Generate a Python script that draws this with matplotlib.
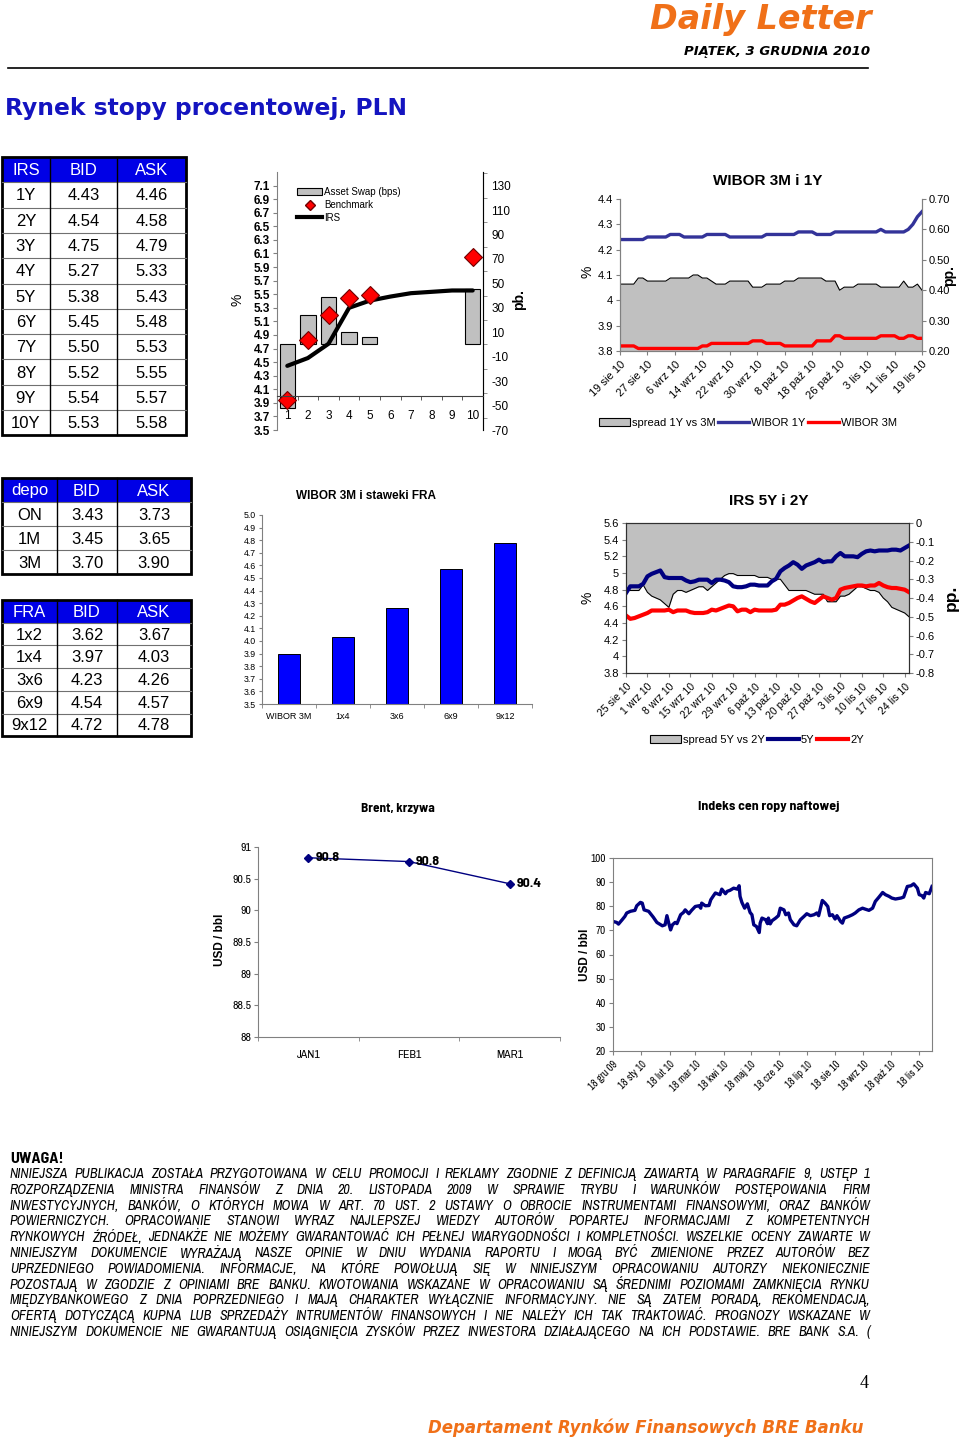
import numpy as np
import matplotlib
matplotlib.use('Agg')
import matplotlib.pyplot as plt
from matplotlib.patches import Rectangle, Patch
from matplotlib.lines import Line2D
from matplotlib.ticker import FixedLocator, FuncFormatter, MultipleLocator

plt.rcParams['font.family'] = ['Liberation Sans', 'DejaVu Sans']
plt.rcParams['axes.unicode_minus'] = False
NARROW = ['Archivo Narrow', 'Liberation Sans', 'DejaVu Sans']
NARROWB = ['Barlow Semi Condensed', 'Archivo Narrow', 'Liberation Sans', 'DejaVu Sans']

# ---------------- DATA ----------------
irs_tenors = ['1Y', '2Y', '3Y', '4Y', '5Y', '6Y', '7Y', '8Y', '9Y', '10Y']
irs_bid = [4.43, 4.54, 4.75, 5.27, 5.38, 5.45, 5.50, 5.52, 5.54, 5.53]
irs_ask = [4.46, 4.58, 4.79, 5.33, 5.43, 5.48, 5.53, 5.55, 5.57, 5.58]

depo_tenors = ['ON', '1M', '3M']
depo_bid = [3.43, 3.45, 3.70]
depo_ask = [3.73, 3.65, 3.90]

fra_tenors = ['1x2', '1x4', '3x6', '6x9', '9x12']
fra_bid = [3.62, 3.97, 4.23, 4.54, 4.72]
fra_ask = [3.67, 4.03, 4.26, 4.57, 4.78]

# asset swap chart
curve_cats = [1, 2, 3, 4, 5, 6, 7, 8, 9, 10]
asw_cats = [1, 2, 3, 4, 5, 10]
asw_bps = [-52, 24, 39, 10, 6, 45]
bench_cats = [1, 2, 3, 4, 5, 10]
bench_yield = [3.94, 4.82, 5.19, 5.44, 5.49, 6.05]

# WIBOR 3M i 1Y (daily)
wibor1y = ([4.24] * 6 + [4.25] * 5 + [4.26] * 3 + [4.25] * 5 + [4.26] * 5 + [4.25] * 8 +
           [4.26] * 7 + [4.27] * 4 + [4.26] * 4 + [4.27] * 10 + [4.28] + [4.27] * 5 +
           [4.28, 4.30, 4.33, 4.35])
wibor3m = ([3.82] * 4 + [3.81] * 14 + [3.82] * 2 + [3.83] * 9 + [3.84] * 3 + [3.83] * 4 +
           [3.82] * 7 + [3.84] * 4 + [3.86] * 2 + [3.85] * 8 + [3.86] * 4 + [3.85] * 2 +
           [3.86] * 2 + [3.85] * 2)
spread_1y3m = ([0.42] * 4 + [0.44] * 2 + [0.43] * 5 + [0.44] * 5 + [0.45] * 2 + [0.44] * 2 +
               [0.43] + [0.42] * 3 + [0.43] * 5 + [0.41] * 3 + [0.42] * 4 + [0.43] * 3 +
               [0.44] * 6 + [0.43] * 3 + [0.40] + [0.41] * 3 + [0.42] * 5 + [0.41] * 5 +
               [0.43] + [0.41] * 2 + [0.42] + [0.40])
wibor_labels = ['19 sie 10', '27 sie 10', '6 wrz 10', '14 wrz 10', '22 wrz 10', '30 wrz 10',
                '8 paź 10', '18 paź 10', '26 paź 10', '3 lis 10', '11 lis 10', '19 lis 10']

# IRS 5Y i 2Y (daily)
irs5y = [4.76, 4.84, 4.84, 4.84, 4.87, 4.96, 4.99, 5.01, 5.03, 4.95,
         4.94, 4.94, 4.94, 4.94, 4.91, 4.89, 4.90, 4.92, 4.92, 4.92,
         4.88, 4.92, 4.92, 4.91, 4.89, 4.84, 4.83, 4.83, 4.84, 4.86,
         4.86, 4.85, 4.85, 4.85, 4.90, 4.93, 5.02, 5.06, 5.09, 5.13,
         5.10, 5.05, 5.09, 5.11, 5.13, 5.16, 5.13, 5.14, 5.14, 5.20,
         5.24, 5.20, 5.20, 5.20, 5.19, 5.23, 5.26, 5.27, 5.26, 5.27,
         5.27, 5.27, 5.28, 5.28, 5.27, 5.30, 5.33]
irs2y = [4.49, 4.45, 4.46, 4.48, 4.50, 4.52, 4.55, 4.55, 4.55, 4.55,
         4.56, 4.53, 4.55, 4.55, 4.55, 4.53, 4.52, 4.52, 4.52, 4.53,
         4.56, 4.55, 4.57, 4.59, 4.61, 4.60, 4.54, 4.56, 4.56, 4.53,
         4.56, 4.55, 4.55, 4.55, 4.55, 4.56, 4.62, 4.62, 4.64, 4.67,
         4.70, 4.72, 4.69, 4.66, 4.64, 4.68, 4.72, 4.70, 4.68, 4.70,
         4.80, 4.82, 4.83, 4.84, 4.85, 4.85, 4.84, 4.85, 4.85, 4.88,
         4.85, 4.83, 4.82, 4.82, 4.81, 4.80, 4.77]
spread_5y2y = [-0.35, -0.36, -0.36, -0.36, -0.33, -0.37, -0.39, -0.40, -0.41, -0.43,
               -0.45, -0.38, -0.36, -0.36, -0.37, -0.36, -0.35, -0.34, -0.34, -0.36,
               -0.34, -0.32, -0.30, -0.28, -0.27, -0.27, -0.28, -0.28, -0.28, -0.28,
               -0.28, -0.29, -0.29, -0.29, -0.30, -0.30, -0.30, -0.33, -0.36, -0.36,
               -0.36, -0.36, -0.36, -0.37, -0.38, -0.38, -0.38, -0.42, -0.42, -0.42,
               -0.39, -0.39, -0.38, -0.36, -0.34, -0.34, -0.35, -0.36, -0.36, -0.37,
               -0.40, -0.42, -0.45, -0.46, -0.47, -0.48, -0.50]
irs_labels = ['25 sie 10', '1 wrz 10', '8 wrz 10', '15 wrz 10', '22 wrz 10', '29 wrz 10',
              '6 paź 10', '13 paź 10', '20 paź 10', '27 paź 10', '3 lis 10', '10 lis 10',
              '17 lis 10', '24 lis 10']

# Brent curve
brent_months = ['JAN1', 'FEB1', 'MAR1']
brent_price = [90.83, 90.77, 90.42]

# Oil index (days since 18 Dec 2009, USD/bbl)
oil_start = '2009-12-18'
oil_days = [0, 4, 6, 10, 13, 15, 19, 24, 26, 30, 32, 34, 39, 44, 48, 54, 57, 59, 61, 63,
            65, 68, 70, 74, 77, 79, 83, 86, 90, 94, 96, 97, 101, 105, 107, 110, 112, 114, 117, 119,
            123, 125, 128, 132, 136, 138, 139, 141, 144, 147, 150, 152, 154, 157, 160, 161, 163, 167, 169, 170,
            172, 174, 178, 181, 183, 187, 189, 192, 194, 198, 201, 205, 209, 212, 216, 220, 223, 225, 229, 232,
            235, 237, 240, 243, 245, 249, 251, 253, 258, 262, 265, 269, 273, 276, 280, 284, 287, 291, 295, 298,
            302, 305, 309, 315, 318, 322, 326, 329, 333, 335, 338, 340, 342, 346, 349]
oil_vals = [73.7, 73.3, 72.6, 74.4, 75.8, 77.2, 77.9, 78.3, 80.2, 81.6, 81.3, 78.5, 77.9, 75.5, 73.3, 71.9, 72.3, 76.1, 73.0, 70.2,
            72.3, 73.3, 72.8, 76.5, 77.4, 78.5, 76.9, 78.3, 79.9, 80.2, 79.2, 81.3, 80.2, 80.3, 82.7, 84.4, 85.5, 85.2, 84.8, 87.1,
            85.2, 86.2, 86.6, 87.5, 87.1, 88.5, 84.1, 81.6, 79.2, 81.0, 77.4, 76.5, 72.3, 71.6, 69.1, 73.0, 75.1, 74.4, 72.8, 75.1,
            72.7, 74.0, 75.1, 76.1, 79.2, 78.5, 76.5, 77.2, 74.4, 72.3, 71.9, 74.4, 75.8, 76.9, 76.1, 76.5, 77.2, 76.1, 82.4, 81.3,
            79.9, 76.1, 76.5, 74.7, 76.1, 73.7, 73.0, 75.1, 75.8, 76.5, 77.2, 78.5, 79.2, 78.8, 78.3, 79.2, 82.0, 83.8, 85.7, 84.8,
            84.1, 83.4, 83.0, 83.4, 83.8, 88.2, 88.5, 89.3, 87.5, 84.8, 84.4, 83.4, 85.7, 85.2, 88.2]
oil_tick_dates = ['2009-12-18', '2010-01-18', '2010-02-18', '2010-03-18', '2010-04-18', '2010-05-18',
                  '2010-06-18', '2010-07-18', '2010-08-18', '2010-09-18', '2010-10-18', '2010-11-18']
oil_tick_labels = ['18 gru 09', '18 sty 10', '18 lut 10', '18 mar 10', '18 kwi 10', '18 maj 10',
                   '18 cze 10', '18 lip 10', '18 sie 10', '18 wrz 10', '18 paź 10', '18 lis 10']

disclaimer = [
    "NINIEJSZA PUBLIKACJA ZOSTAŁA PRZYGOTOWANA W CELU PROMOCJI I REKLAMY ZGODNIE Z DEFINICJĄ ZAWARTĄ W PARAGRAFIE 9, USTĘP 1",
    "ROZPORZĄDZENIA MINISTRA FINANSÓW Z DNIA 20. LISTOPADA 2009 W SPRAWIE TRYBU I WARUNKÓW POSTĘPOWANIA FIRM",
    "INWESTYCYJNYCH, BANKÓW, O KTÓRYCH MOWA W ART. 70 UST. 2 USTAWY O OBROCIE INSTRUMENTAMI FINANSOWYMI, ORAZ BANKÓW",
    "POWIERNICZYCH. OPRACOWANIE STANOWI WYRAZ NAJLEPSZEJ WIEDZY AUTORÓW POPARTEJ INFORMACJAMI Z KOMPETENTNYCH",
    "RYNKOWYCH ŹRÓDEŁ, JEDNAKŻE NIE MOŻEMY GWARANTOWAĆ ICH PEŁNEJ WIARYGODNOŚCI I KOMPLETNOŚCI. WSZELKIE OCENY ZAWARTE W",
    "NINIEJSZYM DOKUMENCIE WYRAŻAJĄ NASZE OPINIE W DNIU WYDANIA RAPORTU I MOGĄ BYĆ ZMIENIONE PRZEZ AUTORÓW BEZ",
    "UPRZEDNIEGO POWIADOMIENIA. INFORMACJE, NA KTÓRE POWOŁUJĄ SIĘ W NINIEJSZYM OPRACOWANIU AUTORZY NIEKONIECZNIE",
    "POZOSTAJĄ W ZGODZIE Z OPINIAMI BRE BANKU. KWOTOWANIA WSKAZANE W OPRACOWANIU SĄ ŚREDNIMI POZIOMAMI ZAMKNIĘCIA RYNKU",
    "MIĘDZYBANKOWEGO Z DNIA POPRZEDNIEGO I MAJĄ CHARAKTER WYŁĄCZNIE INFORMACYJNY. NIE SĄ ZATEM PORADĄ, REKOMENDACJĄ,",
    "OFERTĄ DOTYCZĄCĄ KUPNA LUB SPRZEDAŻY INTRUMENTÓW FINANSOWYCH I NIE NALEŻY ICH TAK TRAKTOWAĆ. PROGNOZY WSKAZANE W",
    "NINIEJSZYM DOKUMENCIE NIE GWARANTUJĄ OSIĄGNIĘCIA ZYSKÓW PRZEZ INWESTORA DZIAŁAJĄCEGO NA ICH PODSTAWIE. BRE BANK S.A. (",
]

# ---------------- FIGURE ----------------
W, H = 960, 1440
fig = plt.figure(figsize=(W / 100, H / 100), dpi=100)
ov = fig.add_axes([0, 0, 1, 1])
ov.set_xlim(0, W)
ov.set_ylim(H, 0)
ov.set_autoscale_on(False)
ov.axis('off')


def axpx(l, t, r, b):
    return fig.add_axes([l / W, 1 - b / H, (r - l) / W, (b - t) / H])


ORANGE = '#F07018'
TBLUE = '#0000E6'
GREYFILL = '#C0C0C0'
AXC = '#808080'

# header
ov.text(872, 20, 'Daily Letter', ha='right', va='center', fontsize=24, fontweight='bold',
        fontstyle='italic', color=ORANGE, family=['DejaVu Sans'])
ov.text(870, 51, 'PIĄTEK, 3 GRUDNIA 2010', ha='right', va='center', fontsize=9.5,
        fontweight='bold', fontstyle='italic', family=['DejaVu Sans'])
ov.plot([8, 868], [68, 68], color='black', lw=1.2)
ov.text(5, 108, 'Rynek stopy procentowej, PLN', ha='left', va='center', fontsize=16.8,
        fontweight='bold', color='#1414C0', family=['DejaVu Sans'])


def table(xe, ytop, rh, header, cols, fs=12):
    nrow = len(cols[0]) + 1
    ybot = ytop + rh * nrow
    ov.add_patch(Rectangle((xe[0], ytop), xe[-1] - xe[0], rh, facecolor=TBLUE, edgecolor='none'))
    for r in range(1, nrow):
        ov.plot([xe[0], xe[-1]], [ytop + r * rh] * 2, color='#707070', lw=0.8)
    for c in range(1, len(xe) - 1):
        ov.plot([xe[c]] * 2, [ytop, ybot], color='black', lw=1.0)
    ov.add_patch(Rectangle((xe[0], ytop), xe[-1] - xe[0], ybot - ytop, fill=False,
                           edgecolor='black', lw=2))
    for c, h in enumerate(header):
        ov.text((xe[c] + xe[c + 1]) / 2, ytop + rh / 2 + 1, h, ha='center', va='center',
                fontsize=fs, color='white')
    for c, col in enumerate(cols):
        for r, v in enumerate(col):
            s = v if isinstance(v, str) else f'{v:.2f}'
            ov.text((xe[c] + xe[c + 1]) / 2, ytop + (r + 1.5) * rh + 1, s, ha='center',
                    va='center', fontsize=fs, color='black')


table([2, 50, 117, 186], 157, 25.3, ['IRS', 'BID', 'ASK'], [irs_tenors, irs_bid, irs_ask])
table([2, 57, 117, 191], 478, 24, ['depo', 'BID', 'ASK'], [depo_tenors, depo_bid, depo_ask])
table([2, 57, 117, 191], 600, 22.7, ['FRA', 'BID', 'ASK'], [fra_tenors, fra_bid, fra_ask])

fmt_g = FuncFormatter(lambda v, p: f'{v:g}')

# ---------------- Chart 1: asset swap ----------------
ax1 = axpx(277, 172, 483, 430)
ax1r = ax1.twinx()
ax1.set_zorder(ax1r.get_zorder() + 1)
ax1.patch.set_visible(False)
ax1.set_xlim(0.5, 10.5)
ax1.set_ylim(3.5, 7.3)
ax1r.set_ylim(-70, 141.1)
ax1r.bar(asw_cats, asw_bps, width=0.75, color=GREYFILL, edgecolor='black', lw=0.8)
irs_mid = [(b + a) / 2 for b, a in zip(irs_bid, irs_ask)]
ax1.plot(curve_cats, irs_mid, color='black', lw=3, solid_capstyle='round')
ax1.plot(bench_cats, bench_yield, ls='none', marker='D', markersize=9,
         markerfacecolor='#FF0000', markeredgecolor='#700000', markeredgewidth=0.8)
ax1.yaxis.set_major_locator(FixedLocator(np.arange(3.5, 7.15, 0.2)))
ax1.yaxis.set_major_formatter(FuncFormatter(lambda v, p: f'{v:.1f}'))
ax1.tick_params(axis='y', labelsize=8.5, length=3, color=AXC, pad=2)
for t in ax1.get_yticklabels():
    t.set_fontweight('bold')
ax1r.yaxis.set_major_locator(FixedLocator(np.arange(-70, 131, 20)))
ax1r.yaxis.set_minor_locator(FixedLocator(np.arange(-60, 141, 20)))
ax1r.tick_params(axis='y', which='both', labelsize=8.5, length=3, color=AXC, pad=6)
ax1r.tick_params(axis='y', which='major', length=0)
ax1.spines['bottom'].set_position(('data', 4.0))
ax1.spines['bottom'].set_color('#404040')
ax1.set_xticks(curve_cats)
ax1.set_xticklabels([str(c) for c in curve_cats])
ax1.xaxis.set_minor_locator(FixedLocator(np.arange(0.5, 10.6, 1)))
ax1.tick_params(axis='x', which='major', length=0, labelsize=8.5, pad=10)
ax1.tick_params(axis='x', which='minor', length=3, color='#404040')
for a in (ax1, ax1r):
    a.spines['top'].set_visible(False)
ax1r.spines['bottom'].set_visible(False)
ax1.spines['left'].set_color(AXC)
ax1r.spines['right'].set_color(AXC)
ax1r.spines['left'].set_visible(False)
h1 = [Patch(facecolor=GREYFILL, edgecolor='black', lw=0.8),
      Line2D([], [], ls='none', marker='D', markersize=5, markerfacecolor='#FF0000',
             markeredgecolor='#700000'),
      Line2D([], [], color='black', lw=3)]
ax1.legend(h1, ['Asset Swap (bps)', 'Benchmark', 'IRS'], loc='upper left',
           bbox_to_anchor=(297 / W, 1 - 187 / H), bbox_transform=fig.transFigure,
           frameon=False, fontsize=7, handlelength=2.6, handleheight=0.7,
           labelspacing=0.3, handletextpad=0.2, borderpad=0, borderaxespad=0)
ov.text(237, 300, '%', rotation=90, ha='center', va='center', fontsize=10)
ov.text(519, 300, 'pb.', rotation=90, ha='center', va='center', fontsize=10, fontweight='bold')

# ---------------- Chart 2: WIBOR 3M i 1Y ----------------
x2 = np.arange(len(wibor1y))
ax2 = axpx(620, 199, 922, 351)
ax2r = ax2.twinx()
ax2.set_zorder(ax2r.get_zorder() + 1)
ax2.patch.set_visible(False)
ax2.set_xlim(0, len(wibor1y) - 1)
ax2.set_ylim(3.8, 4.4)
ax2r.set_ylim(0.2, 0.7)
ax2r.fill_between(x2, 0.2, spread_1y3m, color=GREYFILL, lw=0)
ax2r.plot(x2, spread_1y3m, color='black', lw=0.8)
ax2.plot(x2, wibor1y, color='#333399', lw=2.4)
ax2.plot(x2, wibor3m, color='#FF0000', lw=2.4)
ax2.yaxis.set_major_locator(FixedLocator(np.arange(3.8, 4.41, 0.1)))
ax2.yaxis.set_major_formatter(FuncFormatter(lambda v, p: f'{round(v, 1):g}'))
ax2r.yaxis.set_major_locator(FixedLocator(np.arange(0.2, 0.71, 0.1)))
ax2r.yaxis.set_major_formatter(FuncFormatter(lambda v, p: f'{v:.2f}'))
ax2.set_xticks(np.arange(len(wibor_labels)) * 6)
ax2.set_xticklabels(wibor_labels, rotation=45, ha='right', rotation_mode='anchor')
ax2.tick_params(axis='x', labelsize=8, length=3, color=AXC, pad=3)
ax2.tick_params(axis='y', labelsize=8, length=3, color=AXC, pad=2)
ax2r.tick_params(axis='y', labelsize=8, length=3, color=AXC, pad=2)
for a in (ax2, ax2r):
    a.spines['top'].set_visible(False)
    for s in ('left', 'right', 'bottom'):
        a.spines[s].set_color(AXC)
ov.text(768, 181, 'WIBOR 3M i 1Y', ha='center', va='center', fontsize=11, fontweight='bold')
ov.text(588, 272, '%', rotation=90, ha='center', va='center', fontsize=10)
ov.text(949, 276, 'pp.', rotation=90, ha='center', va='center', fontsize=10, fontweight='bold')
h2 = [Patch(facecolor=GREYFILL, edgecolor='black', lw=0.8),
      Line2D([], [], color='#333399', lw=2.4), Line2D([], [], color='#FF0000', lw=2.4)]
fig.legend(h2, ['spread 1Y vs 3M', 'WIBOR 1Y', 'WIBOR 3M'], loc='center',
           bbox_to_anchor=(748 / W, 1 - 423 / H), ncol=3, frameon=False, fontsize=8,
           handlelength=2.8, handleheight=0.7, handletextpad=0.2, columnspacing=0.2)

# ---------------- Chart 3: FRA bars ----------------
fra_chart_labels = ['WIBOR 3M'] + fra_tenors[1:]
fra_chart_vals = [depo_ask[2]] + fra_ask[1:]
ax3 = axpx(262, 515, 532, 704)
xc = np.arange(len(fra_chart_vals))
ax3.bar(xc, fra_chart_vals, width=0.41, color='#0000FF', edgecolor='black', lw=0.7)
ax3.set_xlim(-0.5, len(xc) - 0.5)
ax3.set_ylim(3.5, 5.0)
ax3.yaxis.set_major_locator(FixedLocator(np.arange(3.5, 5.01, 0.1)))
ax3.yaxis.set_major_formatter(FuncFormatter(lambda v, p: f'{v:.1f}'))
ax3.set_xticks(xc)
ax3.set_xticklabels(fra_chart_labels)
ax3.xaxis.set_minor_locator(FixedLocator(np.arange(-0.5, len(xc), 1)))
ax3.tick_params(axis='x', which='major', length=0, labelsize=6.5, pad=6)
ax3.tick_params(axis='x', which='minor', length=3, color=AXC)
ax3.tick_params(axis='y', labelsize=6.3, length=2.5, color=AXC, pad=2)
ax3.spines['top'].set_visible(False)
ax3.spines['right'].set_visible(False)
ax3.spines['left'].set_color(AXC)
ax3.spines['bottom'].set_color(AXC)
ov.text(366, 496, 'WIBOR 3M i staweki FRA', ha='center', va='center', fontsize=8.5,
        fontweight='bold')

# ---------------- Chart 4: IRS 5Y i 2Y ----------------
x4 = np.arange(len(irs5y))
ax4 = axpx(626, 523, 909, 673)
ax4r = ax4.twinx()
ax4.set_zorder(ax4r.get_zorder() + 1)
ax4.patch.set_visible(False)
ax4.set_xlim(0, len(irs5y) - 1)
ax4.set_ylim(3.8, 5.6)
ax4r.set_ylim(-0.8, 0)
ax4r.fill_between(x4, spread_5y2y, 0, color=GREYFILL, lw=0)
ax4r.plot(x4, spread_5y2y, color='black', lw=0.8)
ax4.plot(x4, irs5y, color='#000080', lw=3)
ax4.plot(x4, irs2y, color='#FF0000', lw=3)
ax4.yaxis.set_major_locator(FixedLocator(np.arange(3.8, 5.61, 0.2)))
ax4.yaxis.set_major_formatter(FuncFormatter(lambda v, p: f'{round(v, 1):g}'))
ax4r.yaxis.set_major_locator(FixedLocator(np.arange(-0.8, 0.01, 0.1)))
ax4r.yaxis.set_major_formatter(FuncFormatter(lambda v, p: f'{round(v, 1):g}' if abs(v) > 1e-9 else '0'))
ax4.set_xticks(np.arange(len(irs_labels)) * 5)
ax4.set_xticklabels(irs_labels, rotation=45, ha='right', rotation_mode='anchor')
ax4.tick_params(axis='x', labelsize=7.5, length=3, color=AXC, pad=3)
ax4.tick_params(axis='y', labelsize=8, length=3, color=AXC, pad=2)
ax4r.tick_params(axis='y', labelsize=8, length=3, color=AXC, pad=2)
for a in (ax4, ax4r):
    for s in ('left', 'right', 'bottom', 'top'):
        a.spines[s].set_color('#303030')
ov.text(769, 501, 'IRS 5Y i 2Y', ha='center', va='center', fontsize=11, fontweight='bold')
ov.text(587, 598, '%', rotation=90, ha='center', va='center', fontsize=10)
ov.text(951, 598, 'pp.', rotation=90, ha='center', va='center', fontsize=12.5, fontweight='bold')
h4 = [Patch(facecolor=GREYFILL, edgecolor='black', lw=0.8),
      Line2D([], [], color='#000080', lw=3), Line2D([], [], color='#FF0000', lw=3)]
fig.legend(h4, ['spread 5Y vs 2Y', '5Y', '2Y'], loc='center',
           bbox_to_anchor=(757 / W, 1 - 740 / H), ncol=3, frameon=False, fontsize=8,
           handlelength=2.8, handleheight=0.7, handletextpad=0.2, columnspacing=0.2)

# ---------------- Chart 5: Brent curve ----------------
ax5 = axpx(258, 847, 560, 1037)
xb = np.arange(len(brent_price))
ax5.plot(xb, brent_price, color='#000080', lw=1, marker='D', markersize=4)
for xi, v in zip(xb, brent_price):
    ax5.annotate(f'{v:.1f}', (xi, v), xytext=(5, 0), textcoords='offset points',
                 ha='left', va='center', fontsize=10, fontweight='bold', family=NARROWB)
ax5.set_xlim(-0.5, len(xb) - 0.5)
ax5.set_ylim(88, 91)
ax5.yaxis.set_major_locator(MultipleLocator(0.5))
ax5.yaxis.set_major_formatter(fmt_g)
ax5.set_xticks(xb)
ax5.set_xticklabels(brent_months)
ax5.xaxis.set_minor_locator(FixedLocator(np.arange(-0.5, len(xb), 1)))
ax5.tick_params(axis='x', which='major', length=0, labelsize=8.5, pad=9)
ax5.tick_params(axis='x', which='minor', length=3, color=AXC)
ax5.tick_params(axis='y', labelsize=8.5, length=3, color=AXC, pad=2)
for t in ax5.get_xticklabels() + ax5.get_yticklabels():
    t.set_family(NARROW)
ax5.spines['top'].set_visible(False)
ax5.spines['right'].set_visible(False)
ax5.spines['left'].set_color(AXC)
ax5.spines['bottom'].set_color(AXC)
ov.text(398, 808, 'Brent, krzywa', ha='center', va='center', fontsize=9.5, fontweight='bold',
        family=NARROWB)
ov.text(220, 940, 'USD / bbl', rotation=90, ha='center', va='center', fontsize=8.5,
        fontweight='bold')

# ---------------- Chart 6: Oil index ----------------
ax6 = axpx(613, 858, 932, 1051)
oil_dates = np.datetime64(oil_start) + np.array(oil_days).astype('timedelta64[D]')
ax6.plot(oil_dates, oil_vals, color='#000080', lw=2.4)
ax6.set_xlim(np.datetime64(oil_start), np.datetime64('2010-12-02'))
ax6.set_ylim(20, 100)
ax6.yaxis.set_major_locator(MultipleLocator(10))
ax6.yaxis.set_major_formatter(fmt_g)
ax6.set_xticks(np.array(oil_tick_dates, dtype='datetime64[D]'))
ax6.set_xticklabels(oil_tick_labels, rotation=45, ha='right', rotation_mode='anchor')
ax6.tick_params(axis='x', labelsize=7.5, length=3, color=AXC, pad=3)
ax6.tick_params(axis='y', labelsize=8, length=3, color=AXC, pad=2)
for t in ax6.get_xticklabels() + ax6.get_yticklabels():
    t.set_family(NARROW)
for s in ('left', 'right', 'bottom', 'top'):
    ax6.spines[s].set_color(AXC)
ov.text(769, 807, 'Indeks cen ropy naftowej', ha='center', va='center', fontsize=10,
        fontweight='bold', family=NARROWB)
ov.text(585, 955, 'USD / bbl', rotation=90, ha='center', va='center', fontsize=8.5,
        fontweight='bold')

# ---------------- Disclaimer ----------------
ov.text(10, 1159, 'UWAGA!', ha='left', va='center', fontsize=11.5, fontweight='bold',
        family=NARROWB)
renderer = fig.canvas.get_renderer()
dfs = 10
probe = ov.text(0, 0, max(disclaimer, key=len), fontsize=dfs, fontstyle='italic', family=NARROW)
wnat = probe.get_window_extent(renderer=renderer).width
probe.remove()
if wnat > 850:
    dfs = dfs * 850 / wnat
for k, line in enumerate(disclaimer):
    y = 1174 + 15.8 * k
    words = line.split(' ')
    ts = [ov.text(0, y, w, ha='left', va='center', fontsize=dfs, fontstyle='italic',
                  family=NARROW) for w in words]
    ws = [t.get_window_extent(renderer=renderer).width for t in ts]
    gap = (860 - sum(ws)) / (len(words) - 1)
    xx = 10
    for t, w in zip(ts, ws):
        t.set_x(xx)
        xx += w + gap

ov.text(864, 1383, '4', ha='center', va='center', fontsize=13,
        family=['Liberation Serif', 'DejaVu Serif'])
ov.text(863, 1428, 'Departament Rynków Finansowych BRE Banku', ha='right', va='center',
        fontsize=12, fontweight='bold', fontstyle='italic', color=ORANGE, family=['DejaVu Sans'])

fig.savefig('out.png', dpi=100)
